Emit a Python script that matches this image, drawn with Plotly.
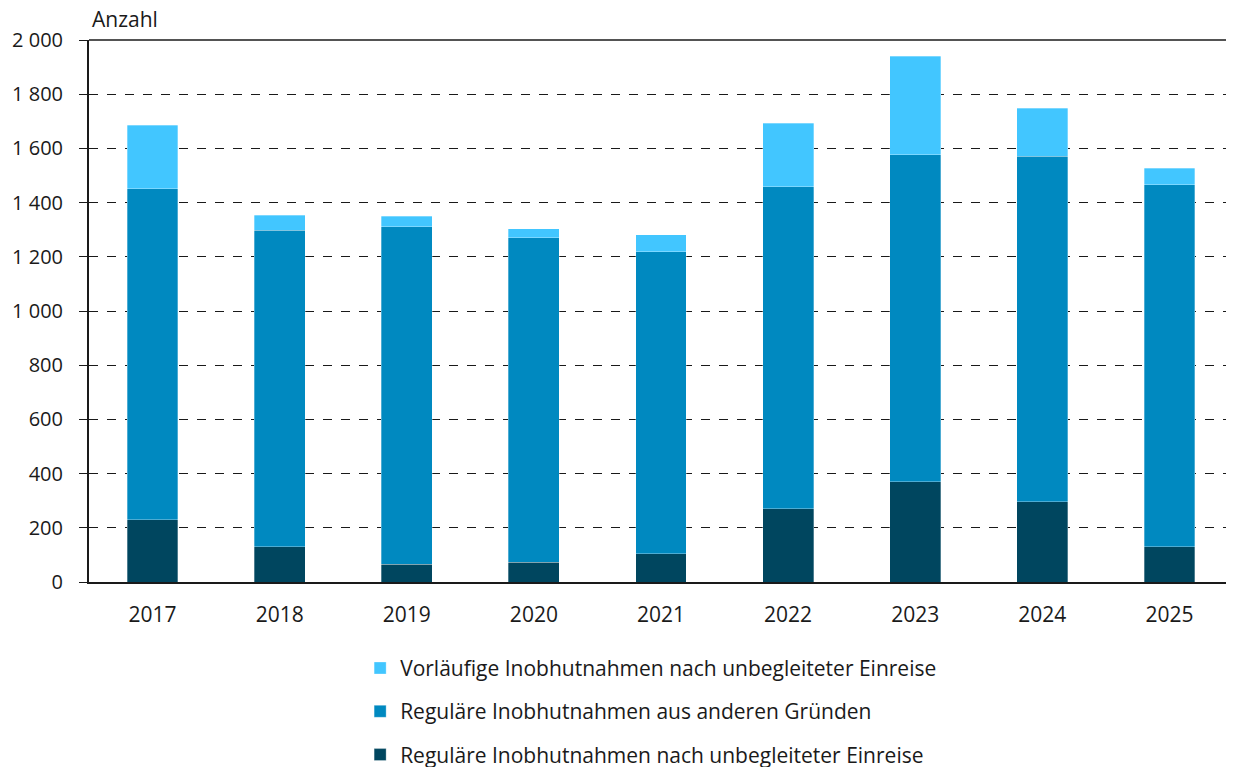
import plotly.graph_objects as go

years = ["2017", "2018", "2019", "2020", "2021", "2022", "2023", "2024", "2025"]
regular_unaccompanied = [229, 130, 65, 73, 105, 271, 370, 296, 130]
regular_other = [1222, 1168, 1246, 1198, 1113, 1188, 1207, 1275, 1335]
provisional_unaccompanied = [235, 56, 38, 32, 63, 234, 363, 177, 62]

names = [
    "Reguläre Inobhutnahmen nach unbegleiteter Einreise",
    "Reguläre Inobhutnahmen aus anderen Gründen",
    "Vorläufige Inobhutnahmen nach unbegleiteter Einreise",
]
colors = ["#00465F", "#0089C0", "#42C6FF"]
legend_ranks = [3, 2, 1]
y_ticks = [0, 200, 400, 600, 800, 1000, 1200, 1400, 1600, 1800, 2000]
y_ticktext = ["0", "200", "400", "600", "800", "1 000", "1 200", "1 400",
              "1 600", "1 800", "2 000"]

FONT = "Open Sans, Noto Sans, sans-serif"
TXT = "#1a1a1a"

fig = go.Figure()
for i, (vals, name, col, rank) in enumerate(zip(
        [regular_unaccompanied, regular_other, provisional_unaccompanied],
        names, colors, legend_ranks)):
    fig.add_trace(go.Bar(
        x=years, y=vals, name=name, legendgroup=f"g{i}", legendrank=rank,
        marker=dict(color=col, line=dict(color="rgba(255,255,255,0.5)", width=0.6)),
        hoverinfo="x+y+name",
    ))

# page body has an 8px margin, so the figure is 8px smaller than the window.
fig.update_layout(
    width=1226, height=759,
    barmode="stack", bargap=0.6,
    plot_bgcolor="white", paper_bgcolor="white",
    margin=dict(l=81, r=1, t=32, b=185),
    font=dict(family=FONT, size=21, color=TXT),
    showlegend=True,
    legend=dict(
        orientation="v", traceorder="grouped", tracegroupgap=13,
        xref="paper", yref="container",
        x=0.237, xanchor="left", y=0.157, yanchor="top",
        font=dict(family=FONT, size=21, color=TXT),
        itemwidth=30,
    ),
    xaxis=dict(
        showline=True, linecolor=TXT, linewidth=2,
        ticks="", ticklabelstandoff=13, tickangle=0,
        showgrid=False, tickfont=dict(size=21),
    ),
    yaxis=dict(
        range=[0, 2000], tickvals=y_ticks, ticktext=y_ticktext,
        showline=True, linecolor=TXT, linewidth=2,
        ticks="outside", ticklen=8, tickcolor=TXT, tickwidth=1,
        showgrid=True, gridcolor=TXT, gridwidth=1, griddash="dash",
        zeroline=False, tickfont=dict(size=20), ticklabelstandoff=12,
    ),
    annotations=[dict(
        text="Anzahl", xref="paper", yref="paper", x=0, y=1, xshift=1, yshift=5,
        xanchor="left", yanchor="bottom", showarrow=False,
        font=dict(family=FONT, size=21, color=TXT),
    )],
    shapes=[
        dict(type="line", xref="paper", yref="paper", x0=0, x1=1, y0=1, y1=1,
             line=dict(color=TXT, width=1.5)),
        dict(type="line", xref="paper", yref="paper", x0=1, x1=1, y0=0, y1=1,
             line=dict(color="#bbbbbb", width=1)),
    ],
)

fig.write_html("out.html")
